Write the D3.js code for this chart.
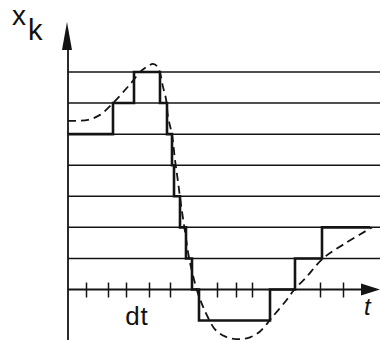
<!DOCTYPE html>
<html>
<head>
<meta charset="utf-8">
<script src="https://cdn.jsdelivr.net/npm/d3@7"></script>
<style>
  body { margin: 0; background: #fff; }
  text { font-family: "Liberation Sans", Arial, sans-serif; fill: #111; }
</style>
</head>
<body>
<svg id="chart" width="380" height="340"></svg>
<script>
// quantization levels drawn as horizontal lines
const levels = [1, 2, 3, 4, 5, 6, 7];

// sampled (staircase) signal: time where each step begins, and its level
const stepTimes = [0, 2.25, 3.3, 4.6, 4.95, 5.2, 5.3, 5.6, 5.9, 6.2, 6.55, 10.1, 11.35, 12.7, 15.1];
const stepLevels = [5, 6, 7, 6, 5, 4, 3, 2, 1, 0, -1, 0, 1, 2, 2];

// continuous signal (dashed)
const curveTimes = [0, 1.0, 1.6, 2.25, 2.85, 3.2, 3.6, 4.0, 4.25, 4.45, 4.6, 4.75, 4.9, 5.0, 5.2, 5.35, 5.5, 5.65, 5.85, 6.05, 6.3, 6.5, 6.75, 7.0, 7.35, 7.85, 8.5, 9.1, 9.6, 10.2, 10.95, 11.35, 11.85, 12.75, 13.85, 15.2];
const curveLevels = [5.43, 5.46, 5.62, 6.0, 6.42, 6.68, 7.0, 7.19, 7.26, 7.19, 6.97, 6.52, 6.13, 5.56, 4.98, 4.17, 3.47, 2.73, 1.86, 1.03, 0.32, -0.13, -0.55, -0.9, -1.28, -1.51, -1.6, -1.54, -1.35, -0.9, -0.32, 0.03, 0.35, 1.0, 1.48, 2.0];

// tick marks on the time axis
const tickTimes = [0.9, 2.0, 2.9, 4.05, 5.1, 7.45, 8.4, 9.2, 12.6, 13.75];

const svg = d3.select("#chart");
const ink = "#141414";

// scales
const x = d3.scaleLinear().domain([0, 15.6]).range([68, 380]);
const y = d3.scaleLinear().domain([0, 7]).range([289.5, 72]);

// level lines
svg.append("g")
  .selectAll("line")
  .data(levels)
  .join("line")
  .attr("x1", x(0))
  .attr("x2", x(15.6))
  .attr("y1", (d) => y(d))
  .attr("y2", (d) => y(d))
  .attr("stroke", ink)
  .attr("stroke-width", 1.5);

// time axis with ticks crossing the line
const axis = svg.append("g")
  .attr("transform", `translate(0,${y(0)})`)
  .call(d3.axisBottom(x).tickValues(tickTimes).tickSize(8).tickFormat(""));
axis.select(".domain").remove();
axis.selectAll(".tick line")
  .attr("y1", -7)
  .attr("stroke", ink)
  .attr("stroke-width", 1.5);

svg.append("line")
  .attr("x1", x(0))
  .attr("x2", 364)
  .attr("y1", y(0))
  .attr("y2", y(0))
  .attr("stroke", ink)
  .attr("stroke-width", 1.8);
svg.append("path")
  .attr("d", `M380,${y(0)}L361,${y(0) - 6}L361,${y(0) + 6}Z`)
  .attr("fill", ink);

// vertical axis with arrow
svg.append("line")
  .attr("x1", x(0))
  .attr("x2", x(0))
  .attr("y1", 46)
  .attr("y2", 340)
  .attr("stroke", ink)
  .attr("stroke-width", 1.8);
svg.append("path")
  .attr("d", `M${x(0) - 1},22L${x(0) - 6},50L${x(0) + 4},50Z`)
  .attr("fill", ink);

// dashed continuous signal
const curveData = curveTimes.map((t, i) => [t, curveLevels[i]]);
svg.append("path")
  .datum(curveData)
  .attr("fill", "none")
  .attr("stroke", ink)
  .attr("stroke-width", 1.8)
  .attr("stroke-dasharray", "8,5")
  .attr("d", d3.line()
    .x((d) => x(d[0]))
    .y((d) => y(d[1]))
    .curve(d3.curveCatmullRom));

// staircase
const stepData = stepTimes.map((t, i) => [t, stepLevels[i]]);
svg.append("path")
  .datum(stepData)
  .attr("fill", "none")
  .attr("stroke", ink)
  .attr("stroke-width", 2.6)
  .attr("d", d3.line()
    .x((d) => x(d[0]))
    .y((d) => y(d[1]))
    .curve(d3.curveStepAfter));

// labels
svg.append("text")
  .attr("x", 12)
  .attr("y", 25)
  .attr("font-size", 28)
  .text("x");
svg.append("text")
  .attr("x", 28)
  .attr("y", 40)
  .attr("font-size", 29)
  .text("k");
svg.append("text")
  .attr("x", 137)
  .attr("y", 325)
  .attr("text-anchor", "middle")
  .attr("font-size", 26)
  .attr("letter-spacing", 1)
  .text("dt");
svg.append("text")
  .attr("x", 364)
  .attr("y", 315)
  .attr("font-size", 24)
  .attr("font-style", "italic")
  .text("t");
</script>
</body>
</html>
